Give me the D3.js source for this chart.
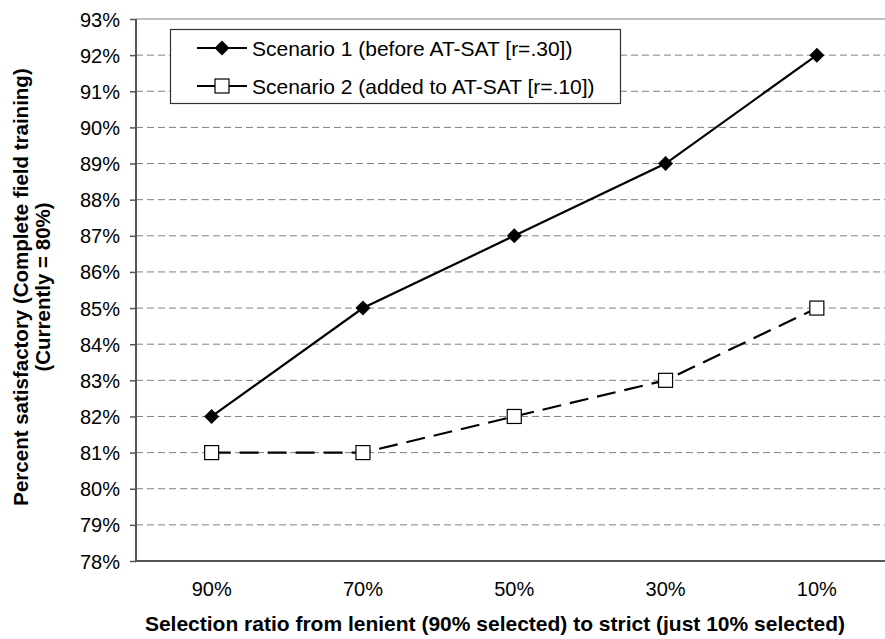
<!DOCTYPE html>
<html>
<head>
<meta charset="utf-8">
<script src="https://cdn.jsdelivr.net/npm/d3@7"></script>
<style>
  body { margin: 0; background: #fff; }
  svg { display: block; font-family: "Liberation Sans", Arial, sans-serif; }
  .y-axis text, .x-axis text { fill: #000; }
</style>
</head>
<body>
<div id="chart"></div>
<script>
const categories = ["90%", "70%", "50%", "30%", "10%"];
const scenario1 = [82, 85, 87, 89, 92];
const scenario2 = [81, 81, 82, 83, 85];
const yTicks = [78, 79, 80, 81, 82, 83, 84, 85, 86, 87, 88, 89, 90, 91, 92, 93];
const seriesNames = [
  "Scenario 1 (before AT-SAT [r=.30])",
  "Scenario 2 (added to AT-SAT [r=.10])",
];

const W = 885, H = 639;
const margin = { top: 19, left: 136, right: -7.5, bottom: 78 };
const width = W - margin.left - margin.right,
  height = H - margin.top - margin.bottom;

const svg = d3.select("#chart").append("svg")
  .attr("width", W).attr("height", H);

const g = svg.append("g")
  .attr("transform", `translate(${margin.left},${margin.top})`);

const x = d3.scaleBand().domain(categories).range([0, width]);
const y = d3.scaleLinear().domain([78, 93]).range([height, 0]);
const cx = (d) => x(d) + x.bandwidth() / 2;

// gridlines (top one is the solid plot border)
g.append("g").selectAll("line")
  .data(yTicks.filter((t) => t > 78))
  .join("line")
  .attr("x1", 0).attr("x2", width)
  .attr("y1", (d) => y(d)).attr("y2", (d) => y(d))
  .attr("stroke", "#808080")
  .attr("stroke-width", 1)
  .attr("stroke-dasharray", (d) => (d === 93 ? null : "7,4"));

// y axis
const yAxis = d3.axisLeft(y).tickValues(yTicks)
  .tickFormat((d) => d + "%").tickSize(6).tickPadding(10);
const yG = g.append("g").attr("class", "y-axis").call(yAxis);
yG.select(".domain").remove();
yG.selectAll(".tick line").attr("stroke", "#555").attr("stroke-width", 1.5);
yG.selectAll("text").attr("font-size", 20).attr("dy", "0.35em");
g.append("line")
  .attr("x1", 0).attr("x2", 0).attr("y1", 0).attr("y2", height)
  .attr("stroke", "#555").attr("stroke-width", 2);

// x axis
const xAxis = d3.axisBottom(x).tickSize(0).tickPadding(21);
const xG = g.append("g").attr("class", "x-axis")
  .attr("transform", `translate(0,${height})`).call(xAxis);
xG.select(".domain").remove();
xG.selectAll("text").attr("font-size", 20);
g.append("line")
  .attr("x1", 0).attr("x2", width).attr("y1", height).attr("y2", height)
  .attr("stroke", "#555").attr("stroke-width", 2);

// lines
const line = d3.line().x((d, i) => cx(categories[i])).y((d) => y(d));
g.append("path").datum(scenario1).attr("d", line)
  .attr("fill", "none").attr("stroke", "#000").attr("stroke-width", 2.2);
g.append("path").datum(scenario2).attr("d", line)
  .attr("fill", "none").attr("stroke", "#000").attr("stroke-width", 2.2)
  .attr("stroke-dasharray", "19,9");

const diamond = (s) => `M0,${-s} L${s},0 L0,${s} L${-s},0 Z`;

g.append("g").selectAll("path")
  .data(scenario1).join("path")
  .attr("transform", (d, i) => `translate(${cx(categories[i])},${y(d)})`)
  .attr("d", diamond(7.5)).attr("fill", "#000");

g.append("g").selectAll("rect")
  .data(scenario2).join("rect")
  .attr("x", (d, i) => cx(categories[i]) - 7)
  .attr("y", (d) => y(d) - 7)
  .attr("width", 14).attr("height", 14)
  .attr("fill", "#fff").attr("stroke", "#000").attr("stroke-width", 1.2);

// legend
const legend = svg.append("g").attr("transform", "translate(170,29)");
legend.append("rect")
  .attr("x", 0.5).attr("y", 0.5).attr("width", 450).attr("height", 74)
  .attr("fill", "#fff").attr("stroke", "#333").attr("stroke-width", 1.2);
seriesNames.forEach((name, i) => {
  const row = legend.append("g").attr("transform", `translate(0,${19 + i * 38})`);
  row.append("line").attr("x1", 27).attr("x2", 77)
    .attr("stroke", "#000").attr("stroke-width", 2.2);
  if (i === 0) {
    row.append("path").attr("transform", "translate(52,0)")
      .attr("d", diamond(7.5)).attr("fill", "#000");
  } else {
    row.append("rect").attr("x", 45).attr("y", -7).attr("width", 14).attr("height", 14)
      .attr("fill", "#fff").attr("stroke", "#000").attr("stroke-width", 1.2);
  }
  row.append("text").attr("x", 82).attr("y", 7.5).attr("font-size", 21)
    .text(name);
});

// axis titles
svg.append("text")
  .attr("x", 495).attr("y", 631)
  .attr("text-anchor", "middle").attr("font-size", 21).attr("font-weight", "bold")
  .text("Selection ratio from lenient (90% selected) to strict (just 10% selected)");

const yTitle = svg.append("text")
  .attr("transform", "translate(0,287) rotate(-90)")
  .attr("text-anchor", "middle").attr("font-size", 20.5).attr("font-weight", "bold");
yTitle.append("tspan").attr("x", 0).attr("y", 28)
  .text("Percent satisfactory (Complete field training)");
yTitle.append("tspan").attr("x", 0).attr("y", 50)
  .text("(Currently = 80%)");
</script>
</body>
</html>
